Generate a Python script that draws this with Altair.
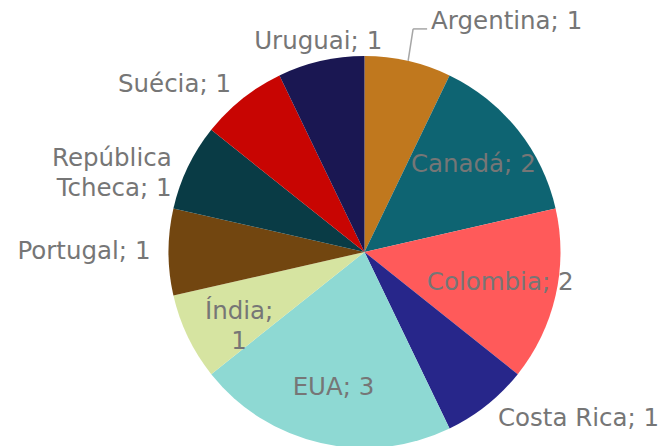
import json
import altair as alt
import pandas as pd

# ---- data ----
countries = ["Argentina", "Canadá", "Colombia", "Costa Rica", "EUA",
             "Índia", "Portugal", "República Tcheca", "Suécia", "Uruguai"]
counts = [1, 2, 2, 1, 3, 1, 1, 1, 1, 1]
colors = ["#C0781E", "#0E6472", "#FF5A5A", "#27268A", "#8ED9D3",
          "#D6E4A1", "#724610", "#093B45", "#C80502", "#1A1752"]

# ---- layout / style ----
W, H = 665, 446
CX, CY, R = 364.5, 252, 196
FONT = "DejaVu Sans"
FS = 24.5
TXT = "#767676"
inside_labels = ["Canadá", "Colombia", "EUA", "Índia"]
leader_labels = ["Argentina"]
wrap_at = {"Índia": "Índia;\n{v}", "República Tcheca": "República\nTcheca; {v}"}

labels = [wrap_at.get(c, "{c}; {v}").format(c=c, v=v) for c, v in zip(countries, counts)]
df = pd.DataFrame({"country": countries, "value": counts,
                   "idx": list(range(len(countries))), "label": labels})

inside_js = json.dumps(inside_labels)
leader_js = json.dumps(leader_labels)

base = (
    alt.Chart(df)
    .transform_window(cum="sum(value)", sort=[alt.SortField("idx")], frame=[None, 0])
    .transform_joinaggregate(total="sum(value)")
    .transform_calculate(ang="2*PI*(datum.cum - datum.value/2)/datum.total")
    .transform_calculate(s="sin(datum.ang)", c="cos(datum.ang)")
)

arcs = alt.Chart(df).mark_arc(radius=R).encode(
    theta=alt.Theta("value:Q", stack=True),
    color=alt.Color("country:N", scale=alt.Scale(domain=countries, range=colors), legend=None),
    order=alt.Order("idx:Q"),
    x=alt.value(CX),
    y=alt.value(CY),
)

def txt(**kw):
    return dict(font=FONT, fontSize=FS, color=TXT, lineBreak="\n", lineHeight=30, **kw)

enc = dict(x=alt.X("lx:Q", scale=None), y=alt.Y("ly:Q", scale=None), text="label:N")

inside = base.transform_filter(f"indexof({inside_js}, datum.country) >= 0").transform_calculate(
    lx=f"{CX} + {R*0.71}*datum.s", ly=f"{CY} - {R*0.71}*datum.c"
).mark_text(**txt(align="center", baseline="middle")).encode(**enc)

outside = base.transform_filter(
    f"indexof({inside_js}, datum.country) < 0 && indexof({leader_js}, datum.country) < 0"
).transform_calculate(lx=f"{CX} + {R+18}*datum.s", ly=f"{CY} - {R+18}*datum.c")

out_right = outside.transform_filter("datum.s > 0.35").mark_text(
    **txt(align="left", baseline="middle")).encode(**enc)
out_left = outside.transform_filter("datum.s < -0.35").mark_text(
    **txt(align="right", baseline="middle")).encode(**enc)
out_top = outside.transform_filter("abs(datum.s) <= 0.35").transform_calculate(
    lx=f"{CX} + {R+12}*datum.s", ly=f"{CY} - {R+12}*datum.c"
).mark_text(**txt(align="center", baseline="alphabetic")).encode(**enc)

lead = base.transform_filter(f"indexof({leader_js}, datum.country) >= 0").transform_calculate(
    ex=f"{CX} + {R}*datum.s", ey=f"{CY} - {R}*datum.c"
).transform_calculate(
    ex1="datum.ex + 5", ey1="datum.ey - 32", ex2="datum.ex + 19", lx="datum.ex + 23", ly="datum.ey - 39"
)
lead1 = lead.mark_rule(color="#A6A6A6", strokeWidth=1.5).encode(
    x=alt.X("ex:Q", scale=None), y=alt.Y("ey:Q", scale=None),
    x2="ex1:Q", y2="ey1:Q")
lead2 = lead.mark_rule(color="#A6A6A6", strokeWidth=1.5).encode(
    x=alt.X("ex1:Q", scale=None), y=alt.Y("ey1:Q", scale=None),
    x2="ex2:Q", y2="ey1:Q")
lead_txt = lead.mark_text(**txt(align="left", baseline="middle")).encode(**enc)

chart = alt.layer(arcs, inside, out_right, out_left, out_top, lead1, lead2, lead_txt).properties(
    width=W, height=H, autosize="none", padding=0
).configure_view(stroke="transparent")

chart.save("out.html", embed_options={"renderer": "svg", "actions": False})
